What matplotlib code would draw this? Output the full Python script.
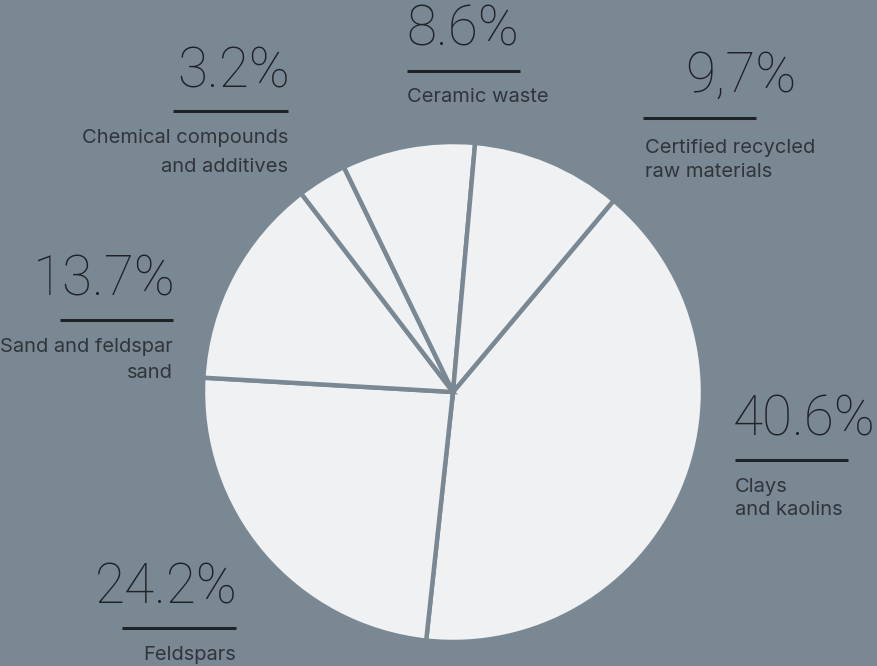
import matplotlib
matplotlib.use("Agg")
import matplotlib.pyplot as plt

# Raw material mix
categories = ["Clays\nand kaolins", "Feldspars", "Sand and feldspar\nsand",
              "Chemical compounds\nand additives", "Ceramic waste",
              "Certified recycled\nraw materials"]
values = [40.6, 24.2, 13.7, 3.2, 8.6, 9.7]
value_labels = ["40.6%", "24.2%", "13.7%", "3.2%", "8.6%", "9,7%"]

BG = "#7a8894"
FACE = "#eff1f3"
DARK = "#1f2226"
TEXT = "#30353b"

W, H = 877, 666
fig = plt.figure(figsize=(W / 100, H / 100), dpi=100, facecolor=BG)
ax = fig.add_axes([0, 0, 1, 1])
ax.set_xlim(0, W)
ax.set_ylim(0, H)
ax.set_aspect("equal")
ax.axis("off")

ax.pie(values, center=(453, H - 392), radius=250, startangle=50,
       counterclock=False, colors=[FACE] * len(values),
       wedgeprops=dict(edgecolor=BG, linewidth=3.2))
ax.set_xlim(0, W)
ax.set_ylim(0, H)

# label blocks: (number x, number baseline, line x0, line x1, line y,
#                text x, text baselines, number align, text align)
blocks = [
    (733, 435, 735, 848, 460, 735, [492, 515], "left", "left"),
    (238, 603, 122, 236, 628, 236, [660], "right", "right"),
    (176, 295, 60, 173, 320, 173, [352, 378], "right", "right"),
    (290, 88, 173, 288, 111, 288, [143, 172], "right", "right"),
    (406, 45, 407, 520, 71, 407, [102], "left", "left"),
    (796, 92, 643, 756, 118, 645, [153, 177], "right", "left"),
]

for (nx, ny, lx0, lx1, ly, tx, tys, nha, tha), lab, cat in zip(blocks, value_labels, categories):
    ax.text(nx, H - ny, lab, ha=nha, va="baseline", fontsize=39.5,
            family="Roboto", fontweight="light", color=DARK)
    ax.plot([lx0, lx1], [H - ly, H - ly], color=DARK, lw=2.2,
            solid_capstyle="butt")
    for line, ty in zip(cat.split("\n"), tys):
        ax.text(tx, H - ty, line, ha=tha, va="baseline", fontsize=14.5,
                family="Inter", color=TEXT)

fig.savefig("out.png", dpi=100, facecolor=BG)
